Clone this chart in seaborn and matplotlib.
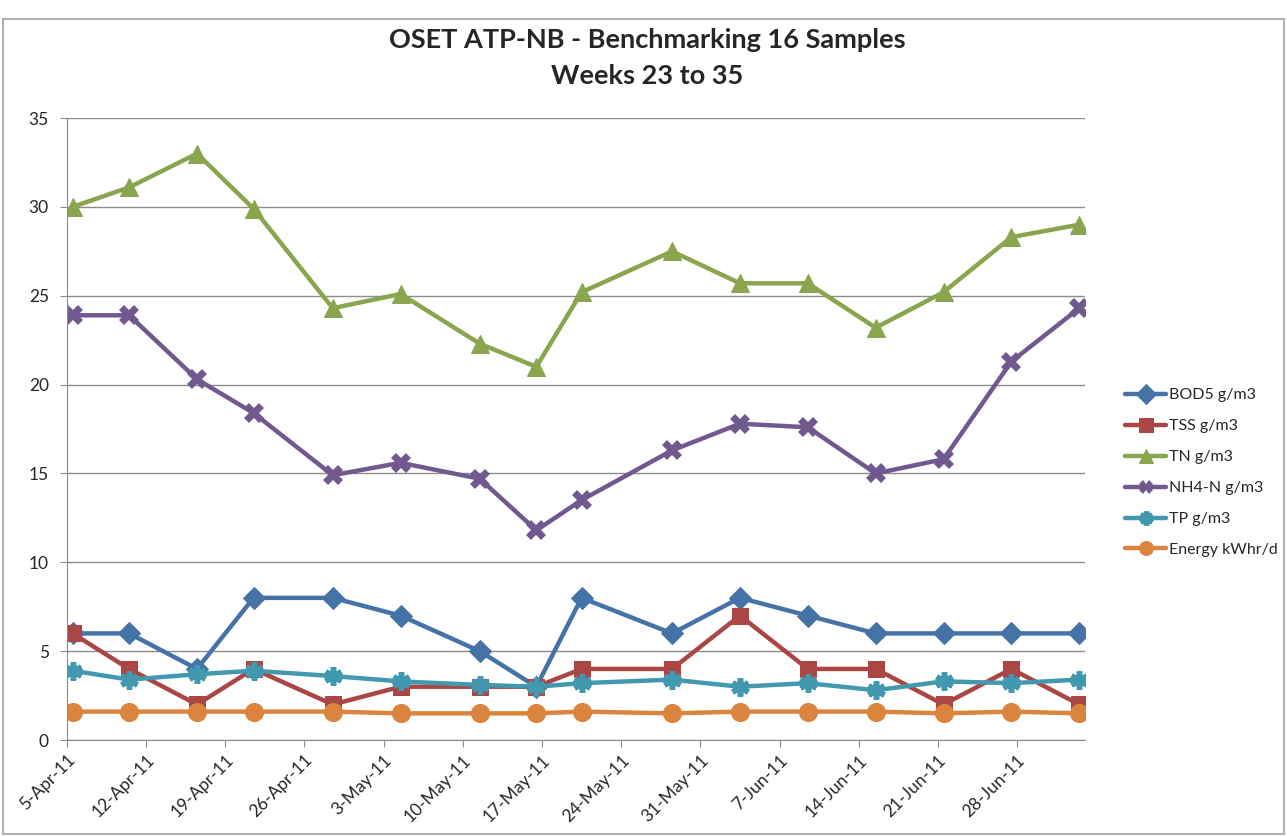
import pandas as pd
import numpy as np
import seaborn as sns
import matplotlib.pyplot as plt
import matplotlib.dates as mdates

# sample dates (Excel plots date points in the middle of the day)
dates = ["2011-04-05", "2011-04-10", "2011-04-16", "2011-04-21", "2011-04-28", "2011-05-04",
         "2011-05-11", "2011-05-16", "2011-05-20", "2011-05-28", "2011-06-03", "2011-06-09",
         "2011-06-15", "2011-06-21", "2011-06-27", "2011-07-03"]

bod5 = [6, 6, 4, 8, 8, 7, 5, 3, 8, 6, 8, 7, 6, 6, 6, 6]
tss = [6, 4, 2, 4, 2, 3, 3, 3, 4, 4, 7, 4, 4, 2, 4, 2]
tn = [30.0, 31.1, 33.0, 29.9, 24.3, 25.1, 22.3, 21.0, 25.2, 27.5, 25.7, 25.7, 23.2, 25.2, 28.3, 29.0]
nh4n = [23.9, 23.9, 20.3, 18.4, 14.9, 15.6, 14.7, 11.8, 13.5, 16.3, 17.8, 17.6, 15.0, 15.8, 21.3, 24.3]
tp = [3.9, 3.4, 3.7, 3.9, 3.6, 3.3, 3.1, 3.0, 3.2, 3.4, 3.0, 3.2, 2.8, 3.3, 3.2, 3.4]
energy = [1.6, 1.6, 1.6, 1.6, 1.6, 1.5, 1.5, 1.5, 1.6, 1.5, 1.6, 1.6, 1.6, 1.5, 1.6, 1.5]

labels = ["BOD5 g/m3", "TSS g/m3", "TN g/m3", "NH4-N g/m3", "TP g/m3", "Energy kWhr/d"]
week_ticks = pd.date_range("2011-04-05", "2011-06-28", freq="7D")

sns.set_style("white")
plt.rcParams['font.family'] = ['Lato', 'DejaVu Sans']

df = pd.DataFrame({"Date": pd.to_datetime(dates) + pd.Timedelta(hours=12)})
for lab, vals in zip(labels, [bod5, tss, tn, nh4n, tp, energy]):
    df[lab] = vals

colors = ["#4572A7", "#AA4643", "#89A54E", "#71588F", "#4198AF", "#DB843D"]
markers = ["D", "s", "^", "X", (6, 2, 0), "o"]
msizes = [11, 12, 13, 14, 13, 13]

fig = plt.figure(figsize=(12.87, 8.36), dpi=100)
ax = fig.add_axes([0.052, 0.1148, 0.791, 0.744])

for lab, c, m, ms in zip(labels, colors, markers, msizes):
    kw = dict(markeredgecolor=c)
    if m == (6, 2, 0):
        kw["markeredgewidth"] = 4
    elif m == "X":
        kw["markeredgewidth"] = 0
    sns.lineplot(data=df, x="Date", y=lab, ax=ax, color=c, marker=m, markersize=ms,
                 linewidth=3.2, label=lab, **kw)

ax.set_xlim(pd.Timestamp("2011-04-05"), pd.Timestamp("2011-07-04"))
ax.set_ylim(0, 35)
ax.set_yticks(range(0, 36, 5))
ax.set_xticks(week_ticks)
ax.xaxis.set_major_formatter(mdates.DateFormatter("%-d-%b-%y"))
ax.set_xlabel("")
ax.set_ylabel("")
ax.grid(axis="y", color="#8c8c8c", linewidth=1)
ax.set_axisbelow(True)
for s in ["top", "right"]:
    ax.spines[s].set_visible(False)
for s in ["left", "bottom"]:
    ax.spines[s].set_color("#8c8c8c")
ax.tick_params(axis="both", which="major", length=5, color="#8c8c8c", direction="out",
               labelsize=12.5, bottom=True, left=True)
ax.tick_params(axis="y", pad=8)
plt.setp(ax.get_xticklabels(), rotation=45, ha="right", rotation_mode="anchor")

fig.text(0.503, 0.952, "OSET ATP-NB - Benchmarking 16 Samples", ha="center", va="center",
         fontsize=19.5, fontweight="bold")
fig.text(0.503, 0.909, "Weeks 23 to 35", ha="center", va="center",
         fontsize=19.5, fontweight="bold")

leg = ax.legend(loc="center left", bbox_to_anchor=(1.025, 0.43), frameon=False,
                fontsize=11.5, labelspacing=1.05, handlelength=2.6, handletextpad=0.15)
for h in leg.legend_handles:
    h.set_markersize(10)

# light grey chart border like the Excel chart area
fig.add_artist(plt.Rectangle((0.002, 0.002), 0.996, 0.975, transform=fig.transFigure,
                             fill=False, edgecolor="#b0b0b0", linewidth=1.5))

fig.savefig("out.png", dpi=100)
